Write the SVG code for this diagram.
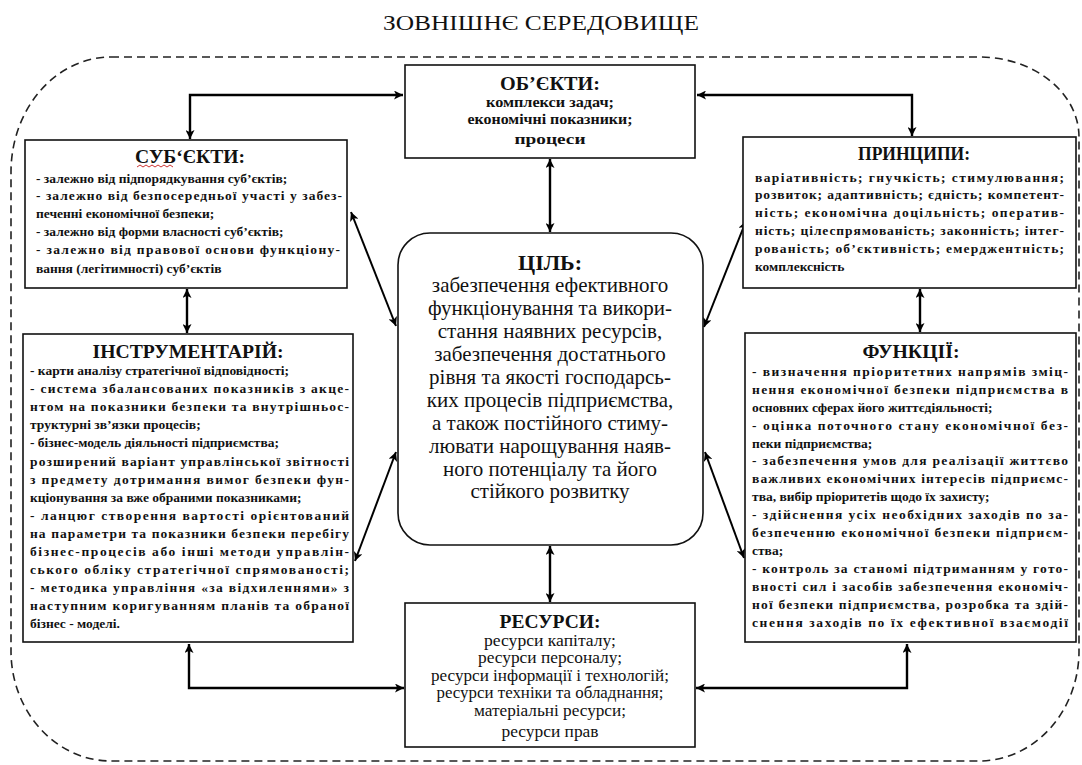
<svg xmlns="http://www.w3.org/2000/svg" width="1082" height="765" viewBox="0 0 1082 765">
<style>
text{font-family:"Liberation Serif","Times New Roman",serif;fill:#111}
.ttl{font-size:22px}
.h{font-size:18px;font-weight:bold;text-anchor:middle}
.hc{font-size:22px;font-weight:bold;text-anchor:middle}
.b{font-size:13.5px;font-weight:bold}
.bc{font-size:14px;font-weight:bold;text-anchor:middle}
.r{font-size:16px;text-anchor:middle}
.c{font-size:21px;text-anchor:middle}
.box{fill:#fff;stroke:#111;stroke-width:1.6}
.ln{fill:none;stroke:#000;stroke-width:2.4;marker-start:url(#ah);marker-end:url(#ah)}
.dg{fill:none;stroke:#000;stroke-width:2;marker-start:url(#ah);marker-end:url(#ah)}
</style>
<defs>
<marker id="ah" viewBox="0 0 10 10" refX="10" refY="5" markerWidth="12" markerHeight="9" markerUnits="userSpaceOnUse" orient="auto-start-reverse">
<path d="M0,0 L10,5 L0,10 L2.5,5 z" fill="#000"/>
</marker>
</defs>
<rect width="1082" height="765" fill="#fff"/>
<text class="ttl" x="383" y="30" textLength="316" lengthAdjust="spacingAndGlyphs">ЗОВНІШНЄ СЕРЕДОВИЩЕ</text>
<path d="M111,57 H980 A100,80 0 0 1 1079,137 V650 A100,110 0 0 1 979,761 H111 A100,110 0 0 1 11,651 V172 A100,115 0 0 1 111,57 Z" fill="none" stroke="#222" stroke-width="1.6" stroke-dasharray="8,5"/>

<g id="connectors">
<path class="ln" d="M403,95 H190 V139"/>
<path class="ln" d="M697,95 H912 V136"/>
<path class="ln" d="M189,644 V688 H404"/>
<path class="ln" d="M907,644 V688 H696"/>
<path class="ln" d="M550,159 V232"/>
<path class="ln" d="M550,546 V602"/>
<path class="ln" d="M187,289 V333"/>
<path class="ln" d="M920,289 V332"/>
<path class="dg" d="M351,212 L396,326"/>
<path class="dg" d="M746,221 L704,327"/>
<path class="dg" d="M396,452 L355,561"/>
<path class="dg" d="M705,452 L744,558"/>
</g>

<g id="obj">
<rect class="box" x="405" y="65" width="290" height="93"/>
<text class="h" x="550" y="90" textLength="100" lengthAdjust="spacingAndGlyphs">ОБ’ЄКТИ:</text>
<text class="bc" x="550" y="107" textLength="128" lengthAdjust="spacingAndGlyphs">комплекси задач;</text>
<text class="bc" x="550" y="124" textLength="165" lengthAdjust="spacingAndGlyphs">економічні показники;</text>
<text class="bc" x="550" y="144" textLength="71" lengthAdjust="spacingAndGlyphs">процеси</text>
</g>

<g id="subj">
<rect class="box" x="25" y="140" width="322" height="148"/>
<text class="h" x="190" y="163" textLength="110" lengthAdjust="spacingAndGlyphs">СУБ‘ЄКТИ:</text>
<path d="M137,167 l3,-2 l3,2 l3,-2 l3,2 l3,-2 l3,2 l3,-2 l3,2 l3,-2 l3,2 l3,-2 l3,2" fill="none" stroke="#c33" stroke-width="1"/>
<text class="b" x="36" y="183">- залежно від підпорядкування суб’єктів;</text>
<text class="b" x="36" y="200" textLength="306" lengthAdjust="spacing">- залежно від безпосередньої участі у забез-</text>
<text class="b" x="36" y="218">печенні економічної безпеки;</text>
<text class="b" x="36" y="236">- залежно від форми власності суб’єктів;</text>
<text class="b" x="36" y="254" textLength="304" lengthAdjust="spacing">- залежно від правової основи функціону-</text>
<text class="b" x="36" y="273">вання (легітимності) суб’єктів</text>
</g>

<g id="princ">
<rect class="box" x="743" y="137" width="333" height="151"/>
<text class="h" x="914" y="160" textLength="112" lengthAdjust="spacingAndGlyphs">ПРИНЦИПИ:</text>
<text class="b" x="755" y="182" textLength="309" lengthAdjust="spacing">варіативність;   гнучкість;   стимулювання;</text>
<text class="b" x="755" y="199" textLength="309" lengthAdjust="spacing">розвиток; адаптивність; єдність; компетент-</text>
<text class="b" x="755" y="217" textLength="309" lengthAdjust="spacing">ність; економічна доцільність; оператив-</text>
<text class="b" x="755" y="235" textLength="309" lengthAdjust="spacing">ність; цілеспрямованість; законність; інтег-</text>
<text class="b" x="755" y="253" textLength="309" lengthAdjust="spacing">рованість; об’єктивність; емерджентність;</text>
<text class="b" x="755" y="271">комплексність</text>
</g>

<g id="goal">
<rect class="box" x="398" y="233" width="305" height="312" rx="32" ry="32"/>
<text class="hc" x="550" y="270">ЦІЛЬ:</text>
<text class="c" x="550" y="292">забезпечення ефективного</text>
<text class="c" x="550" y="315">функціонування та викори-</text>
<text class="c" x="550" y="338">стання наявних ресурсів,</text>
<text class="c" x="550" y="361">забезпечення достатнього</text>
<text class="c" x="550" y="384">рівня та якості господарсь-</text>
<text class="c" x="550" y="407">ких процесів підприємства,</text>
<text class="c" x="550" y="430">а також постійного стиму-</text>
<text class="c" x="550" y="453">лювати нарощування наяв-</text>
<text class="c" x="550" y="476">ного потенціалу та його</text>
<text class="c" x="550" y="498">стійкого розвитку</text>
</g>

<g id="instr">
<rect class="box" x="23" y="334" width="330" height="308"/>
<text class="h" x="188" y="358" textLength="191" lengthAdjust="spacingAndGlyphs">ІНСТРУМЕНТАРІЙ:</text>
<text class="b" x="30" y="375">- карти аналізу стратегічної відповідності;</text>
<text class="b" x="30" y="393" textLength="319" lengthAdjust="spacing">- система збалансованих показників з акце-</text>
<text class="b" x="30" y="411" textLength="319" lengthAdjust="spacing">нтом на показники безпеки та внутрішньос-</text>
<text class="b" x="30" y="429">труктурні зв’язки процесів;</text>
<text class="b" x="30" y="447">- бізнес-модель діяльності підприємства;</text>
<text class="b" x="30" y="466" textLength="319" lengthAdjust="spacing">розширений варіант управлінської звітності</text>
<text class="b" x="30" y="484" textLength="319" lengthAdjust="spacing">з предмету дотримання вимог безпеки фун-</text>
<text class="b" x="30" y="502">кціонування за вже обраними показниками;</text>
<text class="b" x="30" y="520" textLength="319" lengthAdjust="spacing">- ланцюг створення вартості орієнтований</text>
<text class="b" x="30" y="538" textLength="319" lengthAdjust="spacing">на параметри та показники безпеки перебігу</text>
<text class="b" x="30" y="556" textLength="319" lengthAdjust="spacing">бізнес-процесів або інші методи управлін-</text>
<text class="b" x="30" y="574" textLength="319" lengthAdjust="spacing">ського обліку стратегічної спрямованості;</text>
<text class="b" x="30" y="592" textLength="319" lengthAdjust="spacing">-  методика управління «за відхиленнями» з</text>
<text class="b" x="30" y="610" textLength="319" lengthAdjust="spacing">наступним коригуванням планів та обраної</text>
<text class="b" x="30" y="628">бізнес - моделі.</text>
</g>

<g id="func">
<rect class="box" x="745" y="333" width="331" height="309"/>
<text class="h" x="911" y="358" textLength="97" lengthAdjust="spacingAndGlyphs">ФУНКЦІЇ:</text>
<text class="b" x="752" y="376" textLength="316" lengthAdjust="spacing">- визначення пріоритетних напрямів зміц-</text>
<text class="b" x="752" y="394" textLength="316" lengthAdjust="spacing">нення економічної безпеки підприємства в</text>
<text class="b" x="752" y="412">основних сферах його життєдіяльності;</text>
<text class="b" x="752" y="430" textLength="316" lengthAdjust="spacing">- оцінка поточного стану економічної без-</text>
<text class="b" x="752" y="448">пеки підприємства;</text>
<text class="b" x="752" y="465" textLength="316" lengthAdjust="spacing">- забезпечення умов для реалізації життєво</text>
<text class="b" x="752" y="483" textLength="316" lengthAdjust="spacing">важливих економічних інтересів підприємс-</text>
<text class="b" x="752" y="501">тва, вибір пріоритетів щодо їх захисту;</text>
<text class="b" x="752" y="519" textLength="316" lengthAdjust="spacing">- здійснення усіх необхідних заходів по за-</text>
<text class="b" x="752" y="537" textLength="316" lengthAdjust="spacing">безпеченню економічної безпеки підприєм-</text>
<text class="b" x="752" y="555">ства;</text>
<text class="b" x="752" y="573" textLength="316" lengthAdjust="spacing">- контроль за станомі підтриманням у гото-</text>
<text class="b" x="752" y="591" textLength="316" lengthAdjust="spacing">вності сил і засобів забезпечення економіч-</text>
<text class="b" x="752" y="609" textLength="316" lengthAdjust="spacing">ної безпеки підприємства, розробка та здій-</text>
<text class="b" x="752" y="627" textLength="316" lengthAdjust="spacing">снення заходів по їх ефективної взаємодії</text>
</g>

<g id="res">
<rect class="box" x="405" y="603" width="290" height="144"/>
<text class="h" x="550" y="628" textLength="101" lengthAdjust="spacingAndGlyphs">РЕСУРСИ:</text>
<text class="r" x="550" y="646" textLength="132" lengthAdjust="spacingAndGlyphs">ресурси капіталу;</text>
<text class="r" x="550" y="663" textLength="144" lengthAdjust="spacingAndGlyphs">ресурси персоналу;</text>
<text class="r" x="550" y="681" textLength="238" lengthAdjust="spacingAndGlyphs">ресурси інформації і технологій;</text>
<text class="r" x="550" y="698" textLength="227" lengthAdjust="spacingAndGlyphs">ресурси техніки та обладнання;</text>
<text class="r" x="550" y="716" textLength="152" lengthAdjust="spacingAndGlyphs">матеріальні ресурси;</text>
<text class="r" x="550" y="737" textLength="97" lengthAdjust="spacingAndGlyphs">ресурси прав</text>
</g>
</svg>
